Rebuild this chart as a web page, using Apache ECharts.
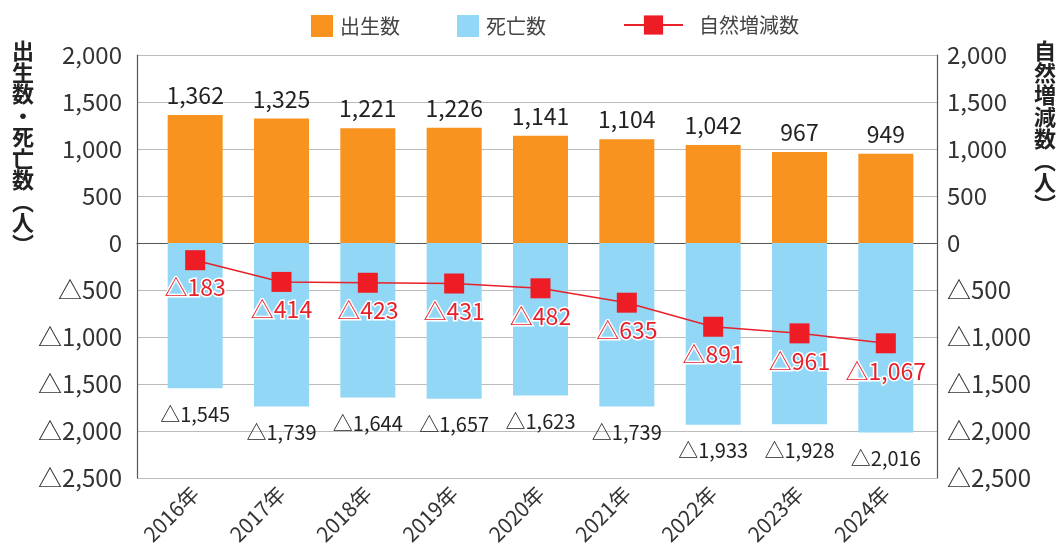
<!DOCTYPE html>
<html>
<head>
<meta charset="utf-8">
<script src="https://cdn.jsdelivr.net/npm/echarts@6/dist/echarts.min.js"></script>
<style>
  html, body { margin: 0; padding: 0; background: #fff; }
  #myChart { width: 1062px; height: 553px; }
</style>
</head>
<body>
<div id="myChart"></div>
<script>
  // 年
  var years = ['2016年', '2017年', '2018年', '2019年', '2020年', '2021年', '2022年', '2023年', '2024年'];
  // 出生数
  var births = [1362, 1325, 1221, 1226, 1141, 1104, 1042, 967, 949];
  // 死亡数（マイナス）
  var deaths = [-1545, -1739, -1644, -1657, -1623, -1739, -1933, -1928, -2016];
  // 自然増減数
  var natural = [-183, -414, -423, -431, -482, -635, -891, -961, -1067];
  // 目盛り
  var yMin = -2500, yMax = 2000, yStep = 500;

  var FONT = '"Noto Sans CJK JP", "Noto Sans", sans-serif';

  function fmt(v) {
    var s = String(Math.abs(v)).replace(/\B(?=(\d{3})+(?!\d))/g, ',');
    return v < 0 ? '△' + s : s;
  }

  var myChart = echarts.init(document.getElementById('myChart'));
  var option = {
    animation: false,
    textStyle: { fontFamily: FONT },
    legend: [
      {
        data: ['出生数', '死亡数'],
        left: 306, top: 10,
        icon: 'rect',
        itemWidth: 22, itemHeight: 22, itemGap: 57,
        textStyle: { fontSize: 20, color: '#444', fontFamily: FONT, padding: [0, 0, 0, 2] }
      },
      {
        data: ['自然増減数'],
        left: 618, top: 10,
        itemWidth: 59, itemHeight: 24,
        textStyle: { fontSize: 20, color: '#444', fontFamily: FONT, padding: [0, 0, 0, 11] }
      }
    ],
    graphic: [
      {
        type: 'text', left: 12, top: 40,
        style: {
          text: '出\n生\n数\n・\n死\n亡\n数\n︵\n人\n︶',
          font: 'bold 22px ' + FONT, lineHeight: 21.5, fill: '#222'
        }
      },
      {
        type: 'text', left: 1034, top: 40,
        style: {
          text: '自\n然\n増\n減\n数\n︵\n人\n︶',
          font: 'bold 22px ' + FONT, lineHeight: 22, fill: '#222'
        }
      }
    ],
    grid: [
      { left: 137, right: 125, top: 55, bottom: 75 },
      { left: 152, right: 133, top: 55, bottom: 75 }
    ],
    xAxis: [
      {
        gridIndex: 0, type: 'value', min: 0, max: 1,
        axisLine: { show: true, onZero: true, lineStyle: { color: '#555', width: 1.2 } },
        axisTick: { show: false }, axisLabel: { show: false }, splitLine: { show: false }
      },
      {
        gridIndex: 1, type: 'category', data: years,
        axisLine: { show: false }, axisTick: { show: false },
        axisLabel: { rotate: 45, margin: 12, fontSize: 21, color: '#333', fontFamily: FONT }
      }
    ],
    yAxis: [
      {
        gridIndex: 0, type: 'value', min: yMin, max: yMax, interval: yStep,
        axisLine: { show: true, lineStyle: { color: '#555', width: 1.2 } },
        axisTick: { show: false },
        axisLabel: { formatter: fmt, margin: 15, fontSize: 24, color: '#333', fontFamily: FONT },
        splitLine: { show: true, lineStyle: { color: '#bbb', width: 1.2 } }
      },
      {
        gridIndex: 0, type: 'value', position: 'right', min: yMin, max: yMax, interval: yStep,
        axisLine: { show: true, lineStyle: { color: '#555', width: 1.2 } },
        axisTick: { show: false },
        axisLabel: { formatter: fmt, margin: 10, fontSize: 24, color: '#333', fontFamily: FONT },
        splitLine: { show: false }
      },
      {
        gridIndex: 1, type: 'value', min: yMin, max: yMax, interval: yStep, show: false
      }
    ],
    series: [
      {
        name: '出生数', type: 'bar', xAxisIndex: 1, yAxisIndex: 2, stack: 'pop',
        barWidth: 55, data: births,
        itemStyle: { color: '#F7931E' },
        label: {
          show: true, position: 'top', distance: 8,
          formatter: function (p) { return fmt(p.value); },
          fontSize: 23, color: '#222', fontFamily: FONT
        }
      },
      {
        name: '死亡数', type: 'bar', xAxisIndex: 1, yAxisIndex: 2, stack: 'pop',
        barWidth: 55, data: deaths,
        itemStyle: { color: '#92D8F6' },
        label: {
          show: true, position: 'bottom', distance: 16,
          formatter: function (p) { return fmt(p.value); },
          fontSize: 20, color: '#222', fontFamily: FONT
        }
      },
      {
        name: '自然増減数', type: 'line', xAxisIndex: 1, yAxisIndex: 2,
        data: natural, symbol: 'rect', symbolSize: 20,
        lineStyle: { color: '#E8202A', width: 1.5 },
        itemStyle: { color: '#EE1C25' },
        label: {
          show: true, position: 'bottom', distance: 6,
          formatter: function (p) { return fmt(p.value); },
          fontSize: 23, color: '#E8202A', fontFamily: FONT,
          textBorderColor: '#fff', textBorderWidth: 3
        },
        z: 5
      }
    ]
  };
  myChart.setOption(option);
</script>
</body>
</html>
